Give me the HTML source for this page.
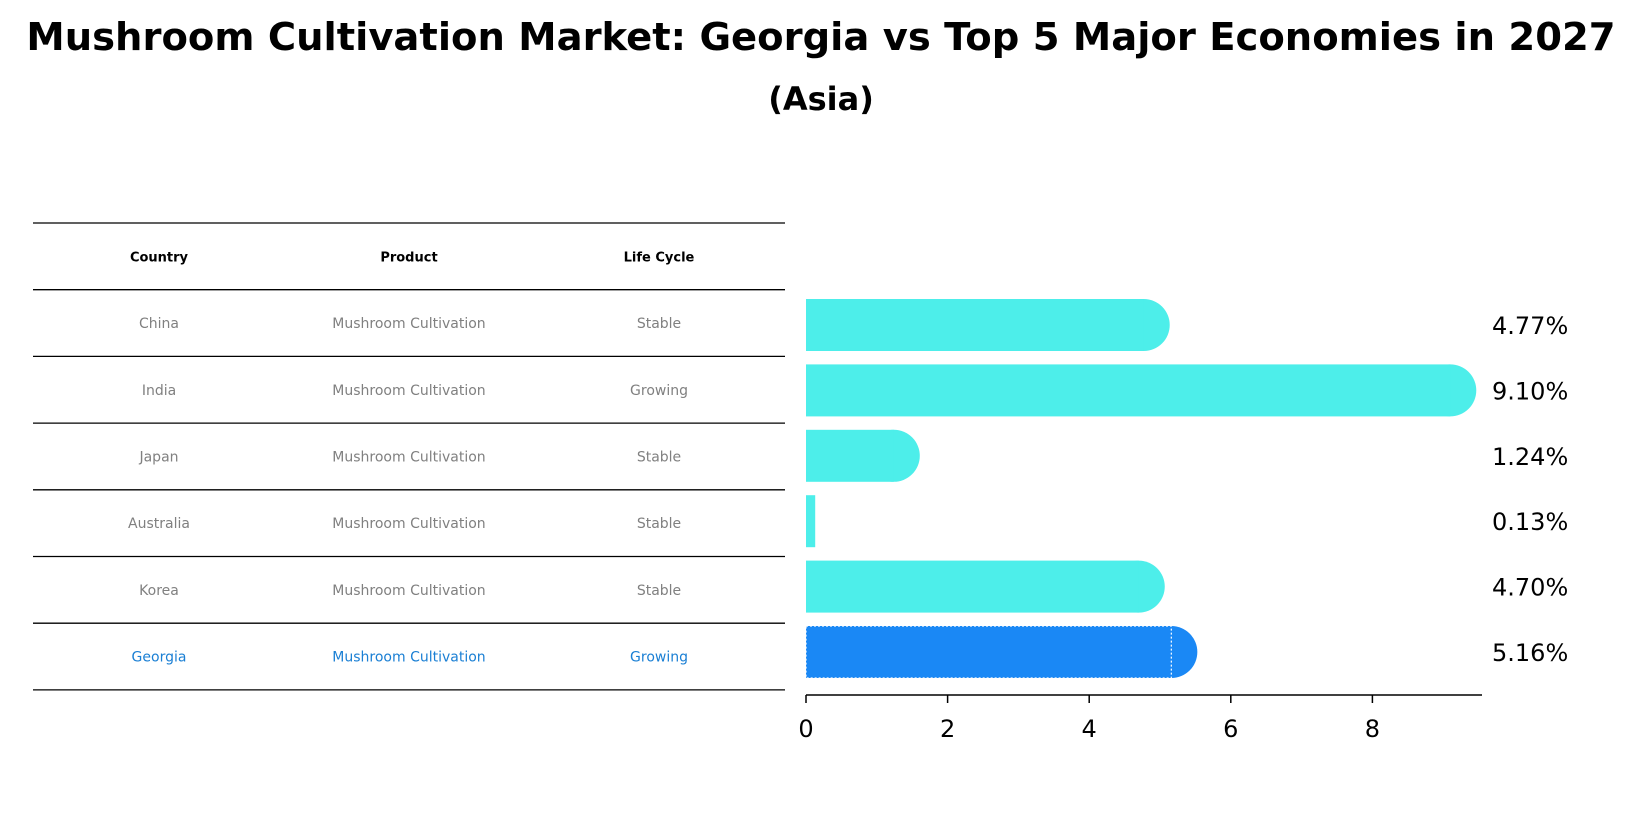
<!DOCTYPE html>
<html><head><meta charset="utf-8"><style>
body{margin:0;background:#fff;font-family:"Liberation Sans","DejaVu Sans",sans-serif;}
#root{position:relative;width:1642px;height:823px;overflow:hidden;}
</style></head><body>
<div id="root">
<svg id="svg" width="1642" height="823" xmlns="http://www.w3.org/2000/svg">
<text x="821" y="50" text-anchor="middle" font-size="38.5" font-weight="bold" font-family="DejaVu Sans, sans-serif">Mushroom Cultivation Market: Georgia vs Top 5 Major Economies in 2027</text>
<text x="821" y="110" text-anchor="middle" font-size="32" font-weight="bold" font-family="DejaVu Sans, sans-serif">(Asia)</text>
<g id="table"></g>
<g id="bars"></g>
</svg>
</div>
<script>
const countries=["China","India","Japan","Australia","Korea","Georgia"];
const lifeCycle=["Stable","Growing","Stable","Stable","Stable","Growing"];
const growth=[4.77,9.10,1.24,0.13,4.70,5.16];
const xTicks=[0,2,4,6,8];
const NS="http://www.w3.org/2000/svg";
function mk(tag,attrs,parent,text){const e=document.createElementNS(NS,tag);for(const k in attrs)e.setAttribute(k,attrs[k]);if(text!==undefined)e.textContent=text;parent.appendChild(e);return e;}
const tableG=document.getElementById('table');
const rowH=66.7, tableTop=223;
const colX=[159,409,659];
for(let i=0;i<=countries.length+1;i++){
  const l=mk('line',{x1:33,x2:785,y1:tableTop+i*rowH,y2:tableTop+i*rowH,stroke:'#000','stroke-width':1.3},tableG);
  
  
}
["Country","Product","Life Cycle"].forEach((h,j)=>{
  const t=mk('text',{x:colX[j],y:tableTop+rowH/2+5,'text-anchor':'middle','font-size':13,'font-weight':'bold','font-family':'DejaVu Sans, sans-serif'},tableG,h);
  
  
});
countries.forEach((c,i)=>{
  const y=tableTop+(i+1)*rowH+rowH/2+5;
  const col=c==="Georgia"?'#1a7fd4':'#808080';
  [c,"Mushroom Cultivation",lifeCycle[i]].forEach((v,j)=>{
    const t=mk('text',{x:colX[j],y:y,'text-anchor':'middle','font-size':14,fill:col,'font-family':'DejaVu Sans, sans-serif'},tableG,v);
    
    
  });
});
const bars=document.getElementById('bars');
const x0=806, scale=70.8;
const xs=v=>x0+v*scale;
const barH=52, cy0=325, step=65.4;
growth.forEach((v,i)=>{
  const cy=cy0+i*step;
  const isG=countries[i]==="Georgia";
  const col=isG?'#1a88f5':'#4deeea';
  if(v>0.5){
    const c=mk('circle',{cx:xs(v),cy:cy,r:barH/2,fill:col},bars);
    
    
  }
  const r=mk('rect',{x:x0,y:cy-barH/2,width:xs(v)-x0,height:barH,fill:col},bars);
  if(isG){r.setAttribute('stroke','#fff');r.setAttribute('stroke-dasharray','2,2');r.setAttribute('stroke-width','1.2');}
  
  
  const t=mk('text',{x:1492,y:cy+9,'font-size':24,'font-family':'DejaVu Sans, sans-serif'},bars,v.toFixed(2)+'%');
  
  
});
const ax=mk('line',{x1:x0,x2:1482,y1:695,y2:695,stroke:'#000','stroke-width':1.5},bars);


xTicks.forEach(v=>{
  const l=mk('line',{x1:xs(v),x2:xs(v),y1:695,y2:703,stroke:'#000','stroke-width':1.5},bars);
  
  
  const t=mk('text',{x:xs(v),y:737,'text-anchor':'middle','font-size':24,'font-family':'DejaVu Sans, sans-serif'},bars,String(v));
  
  
});
</script>
</body></html>
